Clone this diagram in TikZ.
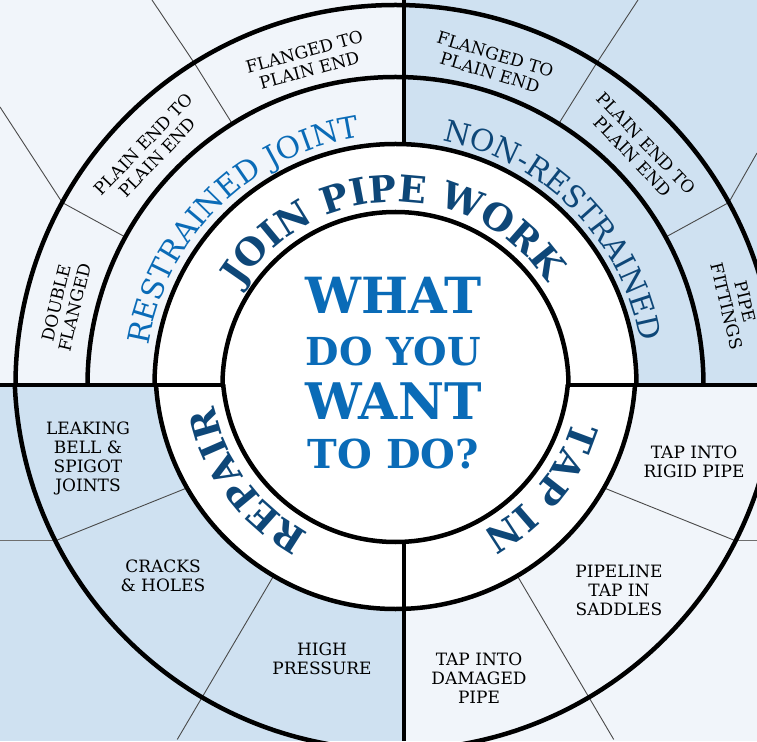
\documentclass[tikz,border=0pt]{standalone}
\usepackage{graphicx}
\usepackage{fontspec}
\setmainfont{DejaVu Serif}
\usepackage{tikz}
\usetikzlibrary{positioning, decorations.text}

\definecolor{lightBg}{HTML}{F1F5FA}
\definecolor{blueBg}{HTML}{CFE1F1}
\definecolor{brightBlue}{HTML}{0A6BB7}
\definecolor{navyBlue}{HTML}{0E4778}
\definecolor{divGray}{HTML}{4A4A4A}

\newcommand{\itemfont}{\fontsize{17}{19}\selectfont}
\newcommand{\ringbold}{\fontsize{37}{40}\selectfont\bfseries}
\newcommand{\ringreg}{\fontsize{30}{32}\selectfont}

\tikzset{
  item/.style={font=\itemfont, align=center, inner sep=0pt, text=black},
  wheelLine/.style={line width=4.5pt},
  divider/.style={draw=divGray, line width=0.9pt},
  outLine/.style={draw=divGray!80, line width=1.4pt},
  bigText/.style={font=\bfseries, text=brightBlue, inner sep=0pt},
}

\begin{document}
\begin{tikzpicture}[x=1pt, y=1pt]
        \useasboundingbox (-395.5,-356) rectangle (361.5,385);
        \clip (-395.5,-356) rectangle (361.5,385);
        \coordinate (leftEdge) at (-395.5,0);
        \coordinate (rightEdge) at (361.5,0);

        % quadrant backgrounds
        \fill[lightBg] (-395.5,0) rectangle (8.5,385);
        \fill[blueBg] (8.5,0) rectangle (361.5,385);
        \fill[blueBg] (-395.5,-356) rectangle (8.5,0);
        \fill[lightBg] (8.5,-356) rectangle (361.5,0);

        % white middle rings
        \fill[white] (-241,0) arc[start angle=180, end angle=0, radius=241] -- cycle;
        \begin{scope}
          \clip (-400,0) rectangle (400,-400);
          \fill[white] (0,16) circle[radius=240];
        \end{scope}

        % thin dividers, top half
        \draw[divider] (122:308) -- (122:380) -- (-243.5,385);
        \draw[divider] (151.3:308) -- (151.3:380) -- (-395.5,278);
        \draw[divider] (58:308) -- (58:380) -- (242.5,385);
        \draw[divider] (28.7:308) -- (28.7:380) -- (361.5,232);

        % thin dividers, bottom half
        \begin{scope}[shift={(0,16)}]
          \draw[divider] (209.7:240) -- (206.8:381) coordinate (jointL);
          \draw[divider] (239.5:240) -- (239.5:430);
          \draw[divider] (-29.7:240) -- (-26.8:381) coordinate (jointR);
          \draw[divider] (-59.5:240) -- (-59.5:430);
        \end{scope}
        \draw[outLine] (jointL) -- (jointL -| leftEdge);
        \draw[outLine] (jointR) -- (jointR -| rightEdge);

        % heavy rings and cross
        \begin{scope}
          \clip (-400,0) rectangle (400,400);
          \draw[wheelLine] (0,0) circle[radius=173];
          \draw[wheelLine] (0,0) circle[radius=241];
          \draw[wheelLine] (0,0) circle[radius=308];
          \draw[wheelLine] (0,0) circle[radius=380];
        \end{scope}
        \begin{scope}
          \clip (-400,0) rectangle (400,-400);
          \draw[wheelLine] (0,16) circle[radius=173];
          \draw[wheelLine] (0,16) circle[radius=240];
          \draw[wheelLine] (0,16) circle[radius=381];
        \end{scope}
        \draw[wheelLine] (leftEdge) -- (-173,0);
        \draw[wheelLine] (173,0) -- (rightEdge);
        \draw[wheelLine] (8.5,385) -- (8.5,240.8);
        \draw[wheelLine] (8.5,-156.8) -- (8.5,-356);

        % centre question
        \node[bigText] (whatText) at (-2,90) {\resizebox{176pt}{!}{WHAT}};
        \node[bigText] (doYou) [below = 23pt of whatText] {\resizebox{175pt}{!}{DO YOU}};
        \node[bigText] (wantText) [below = 17pt of doYou] {\resizebox{176pt}{!}{WANT}};
        \node[bigText] (toDo) [below = 19pt of wantText] {\resizebox{171pt}{!}{TO DO?}};

        % ring titles
        \path[decorate, decoration={text along path, text align=center, text color=navyBlue,
          text={|\ringbold|JOIN PIPE WORK}}]
          (170.85:183) arc[start angle=170.85, end angle=10.85, radius=183];
        \path[decorate, decoration={text along path, text align=center, text color=brightBlue,
          text={|\ringreg|RESTRAINED JOINT}}]
          (204.5:250) arc[start angle=204.5, end angle=64.5, radius=250];
        \path[decorate, decoration={text along path, text align=center, text color=navyBlue,
          text={|\ringreg|NON-RESTRAINED}}]
          (114.6:249) arc[start angle=114.6, end angle=-25.4, radius=249];
        \begin{scope}[shift={(0,16)}]
          \path[decorate, decoration={text along path, text align=center, text color=navyBlue,
            text={|\ringbold|REPAIR}}]
            (-73.2:185) arc[start angle=-73.2, end angle=-213.2, radius=185];
          \path[decorate, decoration={text along path, text align=center, text color=navyBlue,
            text={|\ringbold|TAP IN}}]
            (30.8:185) arc[start angle=30.8, end angle=-109.2, radius=185];
        \end{scope}

        % outer items
        \node[item, rotate=15.3] (flangedL) at (105.3:336) {FLANGED TO\\PLAIN END};
        \node[item, rotate=46.3] (plainL) at (136.3:339) {PLAIN END TO\\PLAIN END};
        \node[item, rotate=76.4] (doubleL) at (166.4:339.6) {DOUBLE\\FLANGED};
        \node[item, rotate=-16.8] (flangedR) at (73.2:336) {FLANGED TO\\PLAIN END};
        \node[item, rotate=-46.1] (plainR) at (43.9:339) {PLAIN END TO\\PLAIN END};
        \node[item, rotate=-76.6] (fittingsR) at (13.4:350) {PIPE\\FITTINGS};

        \node[item] (leakingL) at (-307.5,-73) {LEAKING\\BELL \&\\SPIGOT\\JOINTS};
        \node[item] (cracksL) at (-232.5,-191) {CRACKS\\\& HOLES};
        \node[item] (highL) at (-73.5,-274) {HIGH\\PRESSURE};
        \node[item] (rigidR) at (298.5,-77) {TAP INTO\\RIGID PIPE};
        \node[item] (saddlesR) at (223.5,-205) {PIPELINE\\TAP IN\\SADDLES};
        \node[item] (damagedR) at (83.5,-293) {TAP INTO\\DAMAGED\\PIPE};
\end{tikzpicture}
\end{document}
